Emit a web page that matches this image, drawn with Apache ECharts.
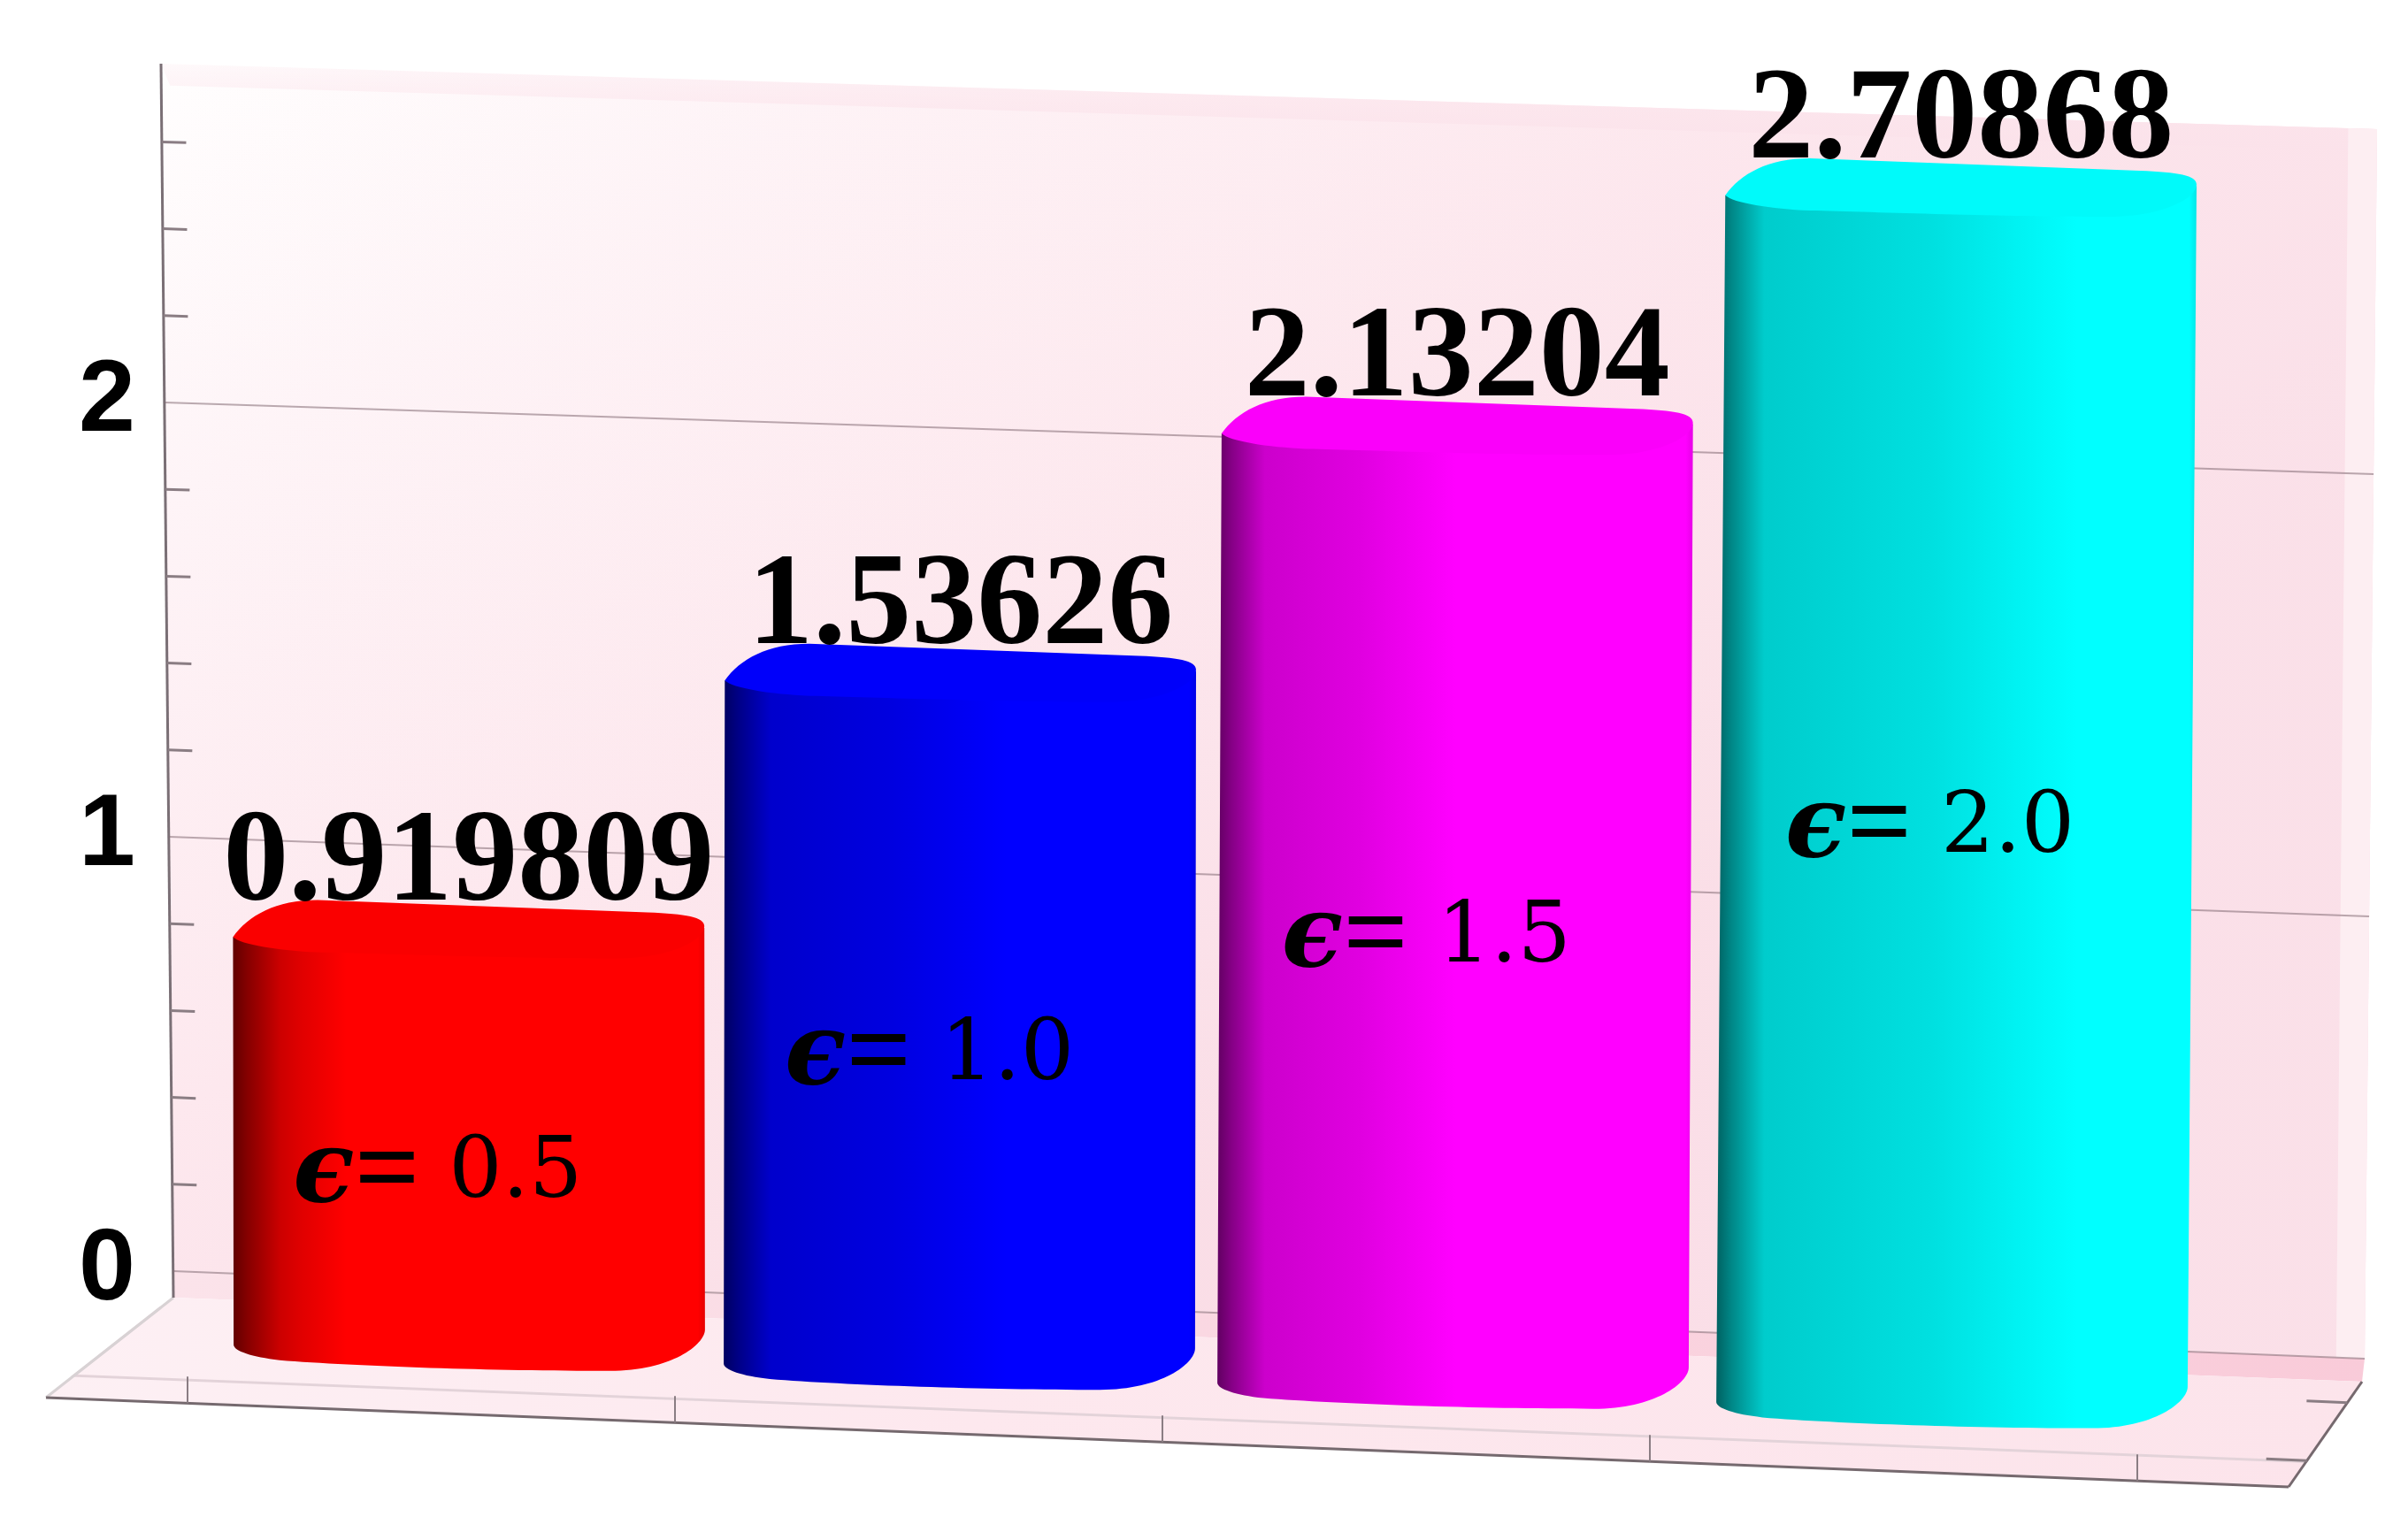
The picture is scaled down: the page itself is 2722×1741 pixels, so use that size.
<!DOCTYPE html>
<html>
<head>
<meta charset="utf-8">
<style>
html, body { margin: 0; padding: 0; background: #fff; }
#chart { width: 2722px; height: 1741px; }
</style>
<script src="https://cdn.jsdelivr.net/npm/echarts@6/dist/echarts.min.js"></script>
</head>
<body>
<div id="chart"></div>
<script>
var categories = ['0.5', '1.0', '1.5', '2.0'];
var barValues = [0.919809, 1.53626, 2.13204, 2.70868];
var barLabels = ['0.919809', '1.53626', '2.13204', '2.70868'];
var barColors = [[255, 0, 0], [0, 0, 255], [255, 0, 255], [0, 255, 255]];
var barFullAt = [0.24, 0.6, 0.5, 0.75];
// sideways nudge of each bar, the perspective is not quite even
var barNudge = [1, -4, -5, 0];
// height of the epsilon text on each bar, in axis units
var epsilonAt = [0.405, 0.711, 1.017, 1.306];
var yTicks = [0, 0.2, 0.4, 0.6, 0.8, 1, 1.2, 1.4, 1.6, 1.8, 2, 2.2, 2.4, 2.6];
var yMax = 2.78;

// back wall plane
var wallLeft = 196, wallRight = 2673, wallBase = 1437, wallUnit = 491;
var wallRightBase = 1536, wallRightUnit = 500;
// plane of the bar fronts
var frontLeft = 250, frontWidth = 2236, frontBase = 1524, frontUnit = 505, frontSlope = 0.0384, frontX0 = 269;
// floor corners
var floorBL = [196, 1467], floorBR = [2670, 1562], floorFR = [2587, 1681], floorFL = [52, 1580];
var floorTickStart = 212, floorTickStep = 551;

function wallPoint(api, u, v) {
    var yl = api.coord([0, v])[1];
    var yr = wallRightBase + (yl - wallBase) * wallRightUnit / wallUnit;
    var xl = wallLeft - 14 * v / yMax;
    var xr = wallRight + 14 * v / yMax;
    return [xl + (xr - xl) * u, yl + (yr - yl) * u];
}

function mix(a, b, t) {
    return [a[0] + (b[0] - a[0]) * t, a[1] + (b[1] - a[1]) * t];
}

function linGrad(x, y, x2, y2, stops) {
    return new echarts.graphic.LinearGradient(x, y, x2, y2, stops.map(function (s) {
        return { offset: s[0], color: s[1] };
    }));
}

function renderBackdrop(params, api) {
    var a = wallPoint(api, 0, yMax), b = wallPoint(api, 1, yMax);
    var c = wallPoint(api, 1, 0), d = wallPoint(api, 0, 0);
    var bandL = wallPoint(api, 0.004, yMax - 0.05), bandR = wallPoint(api, 1, yMax - 0.05);
    var stripeA = wallPoint(api, 0.987, yMax), stripeB = wallPoint(api, 0.987, 0);
    var inFL = mix(floorFL, floorBL, 0.22), inFR = mix(floorFR, floorBR, 0.24);
    var inBR = mix(floorBR, floorFR, 0.1), inBL = mix(floorBL, floorFL, 0.1);
    var items = [
        { type: 'polygon', shape: { points: [a, b, c, d] }, style: {
            fill: linGrad(0, 0, 0.35, 1, [[0, '#fffefe'], [0.25, '#fef4f7'], [0.6, '#fde8ee'], [1, '#fadde6']]) } },
        { type: 'polygon', shape: { points: [a, b, c, d] }, style: {
            fill: linGrad(0, 0, 1, 0, [[0, 'rgba(251,226,234,0)'], [0.5, 'rgba(251,226,234,0.12)'], [1, 'rgba(251,226,234,0.6)']]) } },
        { type: 'polygon', shape: { points: [a, b, bandR, bandL] }, style: {
            fill: linGrad(0, 0, 0, 1, [[0, 'rgba(252,230,237,0.2)'], [1, 'rgba(251,226,234,1)']]) } },
        { type: 'polygon', shape: { points: [stripeA, b, c, stripeB] }, style: { fill: '#fdeef2' } },
        // band along the foot of the wall
        { type: 'polygon', shape: { points: [d, c, floorBR, floorBL] }, style: {
            fill: linGrad(0, 0, 1, 0, [[0, '#fbe3ea'], [1, '#f9cbd9']]) } },
        { type: 'polygon', shape: { points: [floorBL, floorBR, floorFR, floorFL] }, style: {
            fill: linGrad(0, 0, 1, 0, [[0, '#fdf0f4'], [0.4, '#fde8ee'], [1, '#fce4eb']]) } },
        { type: 'polyline', shape: { points: [inBL, inFL, inFR, inBR] }, style: { fill: null, stroke: '#e3d3d9', lineWidth: 3 } },
        { type: 'line', shape: { x1: floorBL[0], y1: floorBL[1], x2: floorFL[0], y2: floorFL[1] }, style: { stroke: '#d8d2d4', lineWidth: 3 } },
        { type: 'line', shape: { x1: floorFL[0], y1: floorFL[1], x2: floorFR[0], y2: floorFR[1] }, style: { stroke: '#75696e', lineWidth: 3 } },
        { type: 'line', shape: { x1: floorFR[0], y1: floorFR[1], x2: floorBR[0], y2: floorBR[1] }, style: { stroke: '#75696e', lineWidth: 3 } },
        { type: 'line', shape: { x1: a[0], y1: a[1], x2: floorBL[0], y2: floorBL[1] }, style: { stroke: '#7a6f75', lineWidth: 3 } }
    ];
    // category ticks on the front edge of the floor
    for (var u = 0; u <= categories.length; u++) {
        var x = floorTickStart + u * floorTickStep;
        var t = (x - floorFL[0]) / (floorFR[0] - floorFL[0]);
        var end = mix(floorFL, floorFR, t);
        items.push({ type: 'line', shape: { x1: x, y1: end[1] - 30, x2: x, y2: end[1] }, style: { stroke: '#8a7d83', lineWidth: 2 } });
    }
    // two ticks on the right edge of the floor
    [0.2, 0.75].forEach(function (t) {
        var p = mix(floorBR, floorFR, t);
        items.push({ type: 'line', shape: { x1: p[0] - 46, y1: p[1] - 2, x2: p[0], y2: p[1] }, style: { stroke: '#8a7d83', lineWidth: 3 } });
    });
    return { type: 'group', children: items };
}

function renderWallTick(params, api) {
    var v = api.value(0);
    var isMajor = Math.abs(v - Math.round(v)) < 1e-6;
    var p0 = wallPoint(api, 0, v);
    var p1 = isMajor ? wallPoint(api, 1, v) : wallPoint(api, 0.011, v);
    return {
        type: 'line',
        shape: { x1: p0[0], y1: p0[1], x2: p1[0], y2: p1[1] },
        style: { stroke: isMajor ? 'rgba(130,105,115,0.55)' : '#8a7d83', lineWidth: isMajor ? 2 : 3 }
    };
}

function shade(rgb, f) {
    return 'rgb(' + Math.round(rgb[0] * f) + ',' + Math.round(rgb[1] * f) + ',' + Math.round(rgb[2] * f) + ')';
}

function barGeometry(api, i, v) {
    var centre = api.coord([i, 0])[0] + barNudge[i];
    var width = api.size([1, 0])[0] * 0.953;
    var lean = v * (i - 0.5) * 1.5;
    var x0 = centre - width / 2 + lean;
    var y0 = api.coord([i, v])[1] + frontSlope * (x0 - frontX0);
    return { x0: x0, y0: y0, lean: lean, k: width / 307, height: frontUnit * v, width: width };
}

function renderBar(params, api) {
    var i = params.dataIndex;
    var v = api.value(1);
    var g = barGeometry(api, i, v);
    var k = g.k;
    function p(x, y) {
        return (g.x0 + x * k).toFixed(1) + ' ' + (g.y0 + y * k).toFixed(1);
    }
    var H = g.height / k;
    var d = g.lean / k;
    var body = 'M' + p(0, 0) + ' L' + p(307, -6) + ' L' + p(307 - d, H - 12) +
        ' C' + p(307 - d, H - 2) + ' ' + p(285 - d, H + 15) + ' ' + p(245 - d, H + 15) +
        ' C' + p(170 - d, H + 15) + ' ' + p(80 - d, H + 12) + ' ' + p(30 - d, H + 8) +
        ' C' + p(12 - d, H + 6) + ' ' + p(-d, H + 2) + ' ' + p(-d, H - 2) + ' Z';
    var top = 'M' + p(0, 0) + ' C' + p(10, -14) + ' ' + p(28, -24) + ' ' + p(55, -24) +
        ' L' + p(270, -16) + ' C' + p(295, -15) + ' ' + p(307, -13) + ' ' + p(307, -7) +
        ' C' + p(307, 2) + ' ' + p(285, 14) + ' ' + p(250, 14) +
        ' C' + p(180, 14) + ' ' + p(100, 11) + ' ' + p(55, 10) +
        ' C' + p(30, 9) + ' ' + p(5, 5) + ' ' + p(0, 0) + ' Z';
    var rgb = barColors[i], full = barFullAt[i];
    var fill = linGrad(0, 0, 1, 0, [
        [0, shade(rgb, 0.38)], [0.03, shade(rgb, 0.52)], [0.1, shade(rgb, 0.8)],
        [full * 0.6, shade(rgb, 0.88)], [full, shade(rgb, 1)], [0.985, shade(rgb, 1)], [1, shade(rgb, 0.9)]
    ]);
    return {
        type: 'group',
        children: [
            { type: 'path', shape: { pathData: body }, style: { fill: fill } },
            { type: 'path', shape: { pathData: top }, style: { fill: shade(rgb, 0.98) } }
        ]
    };
}

function renderLabels(params, api) {
    var i = params.dataIndex;
    var g = barGeometry(api, i, api.value(1));
    var centre = g.x0 + g.width / 2;
    var epsY = api.coord([i, epsilonAt[i]])[1] + frontSlope * (centre - 35 - frontX0);
    return {
        type: 'group',
        children: [
            { type: 'text', style: {
                x: centre, y: g.y0 - 81, text: barLabels[i], fill: '#000',
                font: 'bold 148px "Liberation Serif"', align: 'center', verticalAlign: 'middle'
            } },
            { type: 'text', style: {
                x: centre - 35, y: epsY,
                text: '{e|\u03f5}{q|= }{n|' + categories[i] + '}', fill: '#000', align: 'center', verticalAlign: 'middle',
                rich: {
                    e: { font: 'italic bold 114px "DejaVu Serif"', fill: '#000' },
                    q: { font: 'bold 130px "Liberation Serif"', fill: '#000' },
                    n: { font: '95px "DejaVu Serif"', fill: '#000' }
                }
            } }
        ]
    };
}

var echart = echarts.init(document.getElementById('chart'));
var options = {
    animation: false,
    backgroundColor: '#ffffff',
    grid: [
        { left: wallLeft, width: wallRight - wallLeft, top: wallBase - wallUnit * yMax, height: wallUnit * yMax },
        { left: frontLeft, width: frontWidth, top: frontBase - frontUnit * yMax, height: frontUnit * yMax }
    ],
    xAxis: [
        { type: 'category', gridIndex: 0, data: categories, show: false },
        { type: 'category', gridIndex: 1, data: categories, show: false }
    ],
    yAxis: [
        {
            type: 'value', gridIndex: 0, min: 0, max: yMax, interval: 0.2,
            axisLine: { show: false }, axisTick: { show: false }, splitLine: { show: false },
            axisLabel: {
                margin: 43, color: '#000', fontFamily: 'Liberation Sans', fontWeight: 'bold', fontSize: 115,
                showMaxLabel: false, padding: [12, 0, 0, 0],
                formatter: function (v) { return Math.abs(v - Math.round(v)) < 1e-6 ? String(Math.round(v)) : ''; }
            }
        },
        { type: 'value', gridIndex: 1, min: 0, max: yMax, show: false, splitLine: { show: false } }
    ],
    series: [
        { type: 'custom', xAxisIndex: 0, yAxisIndex: 0, z: 1, silent: true, data: [[0]], renderItem: renderBackdrop },
        { type: 'custom', xAxisIndex: 0, yAxisIndex: 0, z: 2, silent: true, data: yTicks.map(function (v) { return [v]; }), encode: { y: 0 }, renderItem: renderWallTick },
        { type: 'custom', xAxisIndex: 1, yAxisIndex: 1, z: 3, data: barValues.map(function (v, i) { return [i, v]; }), encode: { x: 0, y: 1 }, renderItem: renderBar },
        { type: 'custom', xAxisIndex: 1, yAxisIndex: 1, z: 4, data: barValues.map(function (v, i) { return [i, v]; }), encode: { x: 0, y: 1 }, renderItem: renderLabels }
    ]
};
echart.setOption(options);
</script>
</body>
</html>
